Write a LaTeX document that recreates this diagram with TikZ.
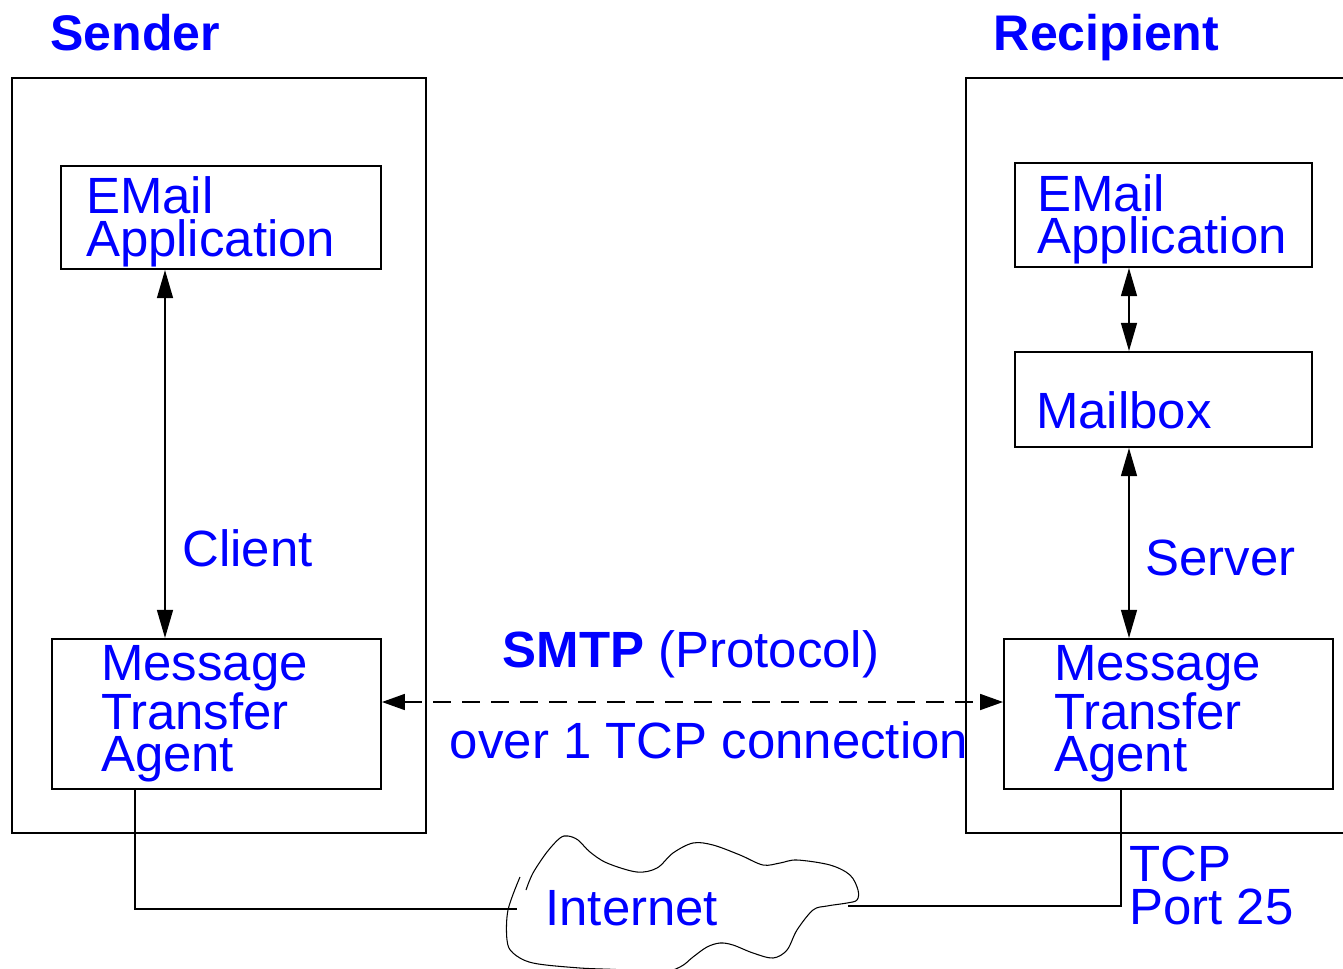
\documentclass[tikz,border=0pt]{standalone}
\usepackage{fontspec}
\setmainfont{Liberation Sans}
\usetikzlibrary{arrows.meta}
\newcommand{\bigtxt}{\fontsize{29}{24}\selectfont}
\newcommand{\ttltxt}{\fontsize{28.5}{24}\selectfont\bfseries}

\begin{document}
\begin{tikzpicture}[x=0.02cm, y=-0.02cm,
        box/.style={draw, line width=1.1pt, align=left, inner ysep=0pt, text=blue, font=\bigtxt},
        lbl/.style={text=blue, font=\bigtxt, inner sep=0pt},
        ttl/.style={text=blue, font=\ttltxt, inner sep=0pt},
        wire/.style={line width=1.1pt},
        biarrow/.style={line width=1.1pt, {Triangle[length=16pt,width=9pt]}-{Triangle[length=16pt,width=9pt]}}]
        \useasboundingbox (0,0) rectangle (1343,968);

        % --- EMISOR ---
        \begin{scope}
            % Caja exterior y titulo
            \draw[wire] (12,78) rectangle (426,833);
            \node[ttl, anchor=base west] (sender) at (50,50) {Sender};

            % Aplicacion y agente de transferencia
            \node[box, inner xsep=0.5cm, text width=5.4cm, minimum height=2.06cm, text height=26pt] (lapp) at (221,217.5) {EMail\\Application};
            \node[box, inner xsep=0.98cm, text width=4.62cm, minimum height=3cm] (lmta) at (216.5,714) {Message\\Transfer\\Agent};

            % Flecha cliente
            \coordinate (lx) at (165,0);
            \draw[biarrow] (lapp.south -| lx) -- (lmta.north -| lx);
            \node[lbl, anchor=base west] (client) at (182,566) {Client};
        \end{scope}

        % --- DESTINATARIO ---
        \begin{scope}
            % Caja exterior (cortada a la derecha) y titulo
            \draw[wire] (1343,78) -- (966,78) -- (966,833) -- (1343,833);
            \node[ttl, anchor=base west] (recipient) at (993.5,50) {Recipient};

            % Aplicacion, buzon y agente
            \node[box, inner xsep=0.45cm, text width=5.04cm, minimum height=2.08cm, text height=26pt] (rapp) at (1163.5,215) {EMail\\Application};
            \node[box, inner xsep=0.42cm, text width=5.1cm, minimum height=1.9cm, text height=1.14cm, text depth=0pt] (mbox) at (1163.5,399.5) {Mailbox};
            \node[box, inner xsep=1cm, text width=4.58cm, minimum height=3cm] (rmta) at (1168.5,714) {Message\\Transfer\\Agent};

            % Flechas servidor
            \coordinate (rx) at (1129,0);
            \draw[biarrow] (rapp.south -| rx) -- (mbox.north -| rx);
            \draw[biarrow] (mbox.south -| rx) -- (rmta.north -| rx);
            \node[lbl, anchor=base west] (server) at (1145,575) {Server};
        \end{scope}

        % --- SMTP ---
        \coordinate (sy) at (0,702);
        \draw[line width=1.1pt, dash pattern=on 10pt off 6.5pt, {Triangle[length=13pt,width=9pt]}-{Triangle[length=13pt,width=9pt]}]
            (lmta.east |- sy) -- (rmta.west |- sy);
        \node[lbl, anchor=base] (smtp) at (691,667) {\textbf{SMTP} (Protocol)};
        \node[lbl, anchor=base] (over) at (709,758) {over 1 TCP connection};

        % --- INTERNET ---
        % Nube dibujada a mano
        \draw[line width=0.6pt] plot[smooth, tension=0.55] coordinates {
            (526,890) (533,873) (547,852) (560,838) (568,836) (578,840) (590,852)
            (607,863) (637,872) (657,868) (673,853) (693,843) (713,845) (740,855)
            (763,865) (780,863) (797,860) (830,865) (850,875) (858,890) (857,900)
            (847,903) (827,906) (813,910) (797,930) (787,950) (773,958) (753,953)
            (733,945) (720,943) (707,947) (693,957) (680,967) (655,975) (623,970)
            (580,968) (533,963) (513,953) (507,940) (508,910) (520,877)};
        \node[lbl, anchor=base west] (inet) at (545,925) {Internet};

        % Conexiones de los agentes a la red
        \coordinate (ldrop) at (135,0);
        \coordinate (rdrop) at (1121,0);
        \coordinate (lnet) at (517,909);
        \coordinate (rnet) at (848,906);
        \draw[wire] (lmta.south -| ldrop) |- (lnet);
        \draw[wire] (rmta.south -| rdrop) |- (rnet);
        \node[lbl, anchor=north west, align=left] (port) at (1129,846) {TCP\\Port 25};
    \end{tikzpicture}
\end{document}
